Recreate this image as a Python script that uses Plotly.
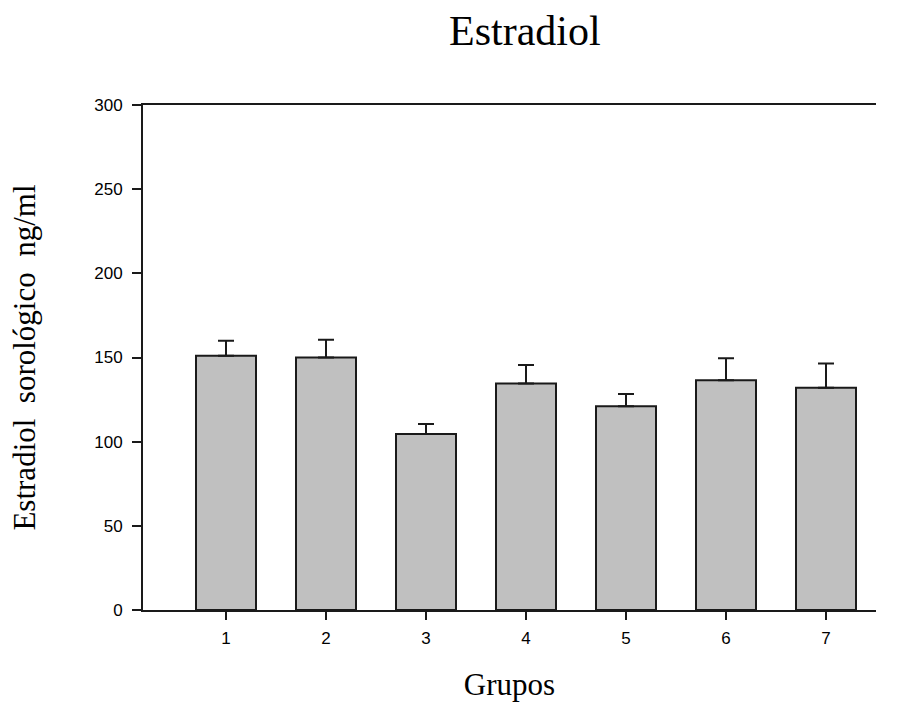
import plotly.graph_objects as go

groups = ["1", "2", "3", "4", "5", "6", "7"]
means = [151, 150, 104.5, 134.5, 121, 136.5, 132]
sem = [9, 10.5, 6, 11, 7.3, 13, 14.5]
yticks = [0, 50, 100, 150, 200, 250, 300]

xpos = [int(g) for g in groups]

fig = go.Figure()
fig.add_trace(go.Bar(
    x=xpos, y=means, width=0.6,
    marker=dict(color="#c0c0c0", line=dict(color="#1a1a1a", width=2)),
    error_y=dict(type="data", array=sem, arrayminus=[0]*len(sem), symmetric=False,
                 color="#1a1a1a", thickness=2, width=8),
    showlegend=False,
))

serif = "Liberation Serif, Times New Roman, serif"
sans = "Liberation Sans, Arial, sans-serif"

fig.update_layout(
    width=899, height=702,
    margin=dict(l=143, r=23, t=105, b=92),
    paper_bgcolor="white", plot_bgcolor="white",
    font=dict(family=sans, color="black", size=17),
)
fig.add_annotation(text="Estradiol", xref="x", x=(0.17 + 7.5) / 2 + 0.155, yref="paper", y=1.0,
                   yshift=74, showarrow=False, font=dict(family=serif, size=42, color="black"),
                   yanchor="middle")

fig.update_xaxes(
    range=[0.17, 7.5], tickvals=xpos, ticktext=groups, automargin=False,
    showline=True, linecolor="#1a1a1a", linewidth=2, mirror=True,
    ticks="outside", ticklen=8, tickwidth=2, tickcolor="#1a1a1a",
    showgrid=False, zeroline=False, ticklabelstandoff=4,
    tickfont=dict(family=sans, size=17, color="black"),
    title=dict(text="Grupos", font=dict(family=serif, size=31, color="black"), standoff=30),
)
fig.update_yaxes(
    range=[0, 300], tickvals=yticks, automargin=False,
    showline=True, linecolor="#1a1a1a", linewidth=2, mirror=False,
    ticks="outside", ticklen=9, tickwidth=2, tickcolor="#1a1a1a",
    showgrid=False, zeroline=False, ticklabelstandoff=6,
    tickfont=dict(family=sans, size=17, color="black"),
    title=dict(text="Estradiol  sorológico  ng/ml", font=dict(family=serif, size=31, color="black"), standoff=49),
)

# small extension of the bottom and top frame lines left of the y axis
for yv in (0, 1):
    fig.add_shape(type="line", xref="paper", yref="paper", x0=-9/733, x1=0, y0=yv, y1=yv,
                  line=dict(color="#1a1a1a", width=2))

fig.write_html("out.html")
